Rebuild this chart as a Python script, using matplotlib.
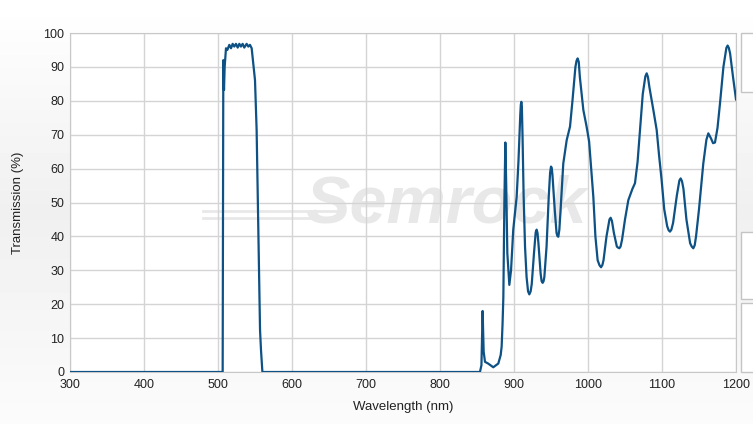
import numpy as np
import matplotlib.pyplot as plt
from matplotlib.patches import Rectangle

plt.rcParams['font.family'] = ['Liberation Sans', 'DejaVu Sans']

# transmission spectrum (wavelength in nm, T in %)
wavelength = [300, 506.3, 507.2, 508.1, 509.0, 510.8, 512.6, 515.3, 517.6, 519.8,
              522.0, 524.3, 526.6, 528.8, 531.0, 533.3, 535.5, 538.7, 541.0, 543.2,
              545.5, 547.7, 550.0, 552.2, 554.5, 556.8, 558.1, 560.0,
              854, 856, 857.6, 859, 860.8, 865, 872, 878.8, 882, 883.3, 884.5,
              885.6, 887, 888.3, 889.5, 891, 893.7, 896, 899, 903.6, 906, 908.5,
              909.2, 909.9, 910.6, 911.5, 913, 914.9, 917, 919, 920.7, 922.5, 924,
              927, 929.3, 930.6, 931.8, 933, 936, 937.3, 938.7, 940, 941, 944, 947,
              948.8, 950, 951, 952, 955, 957.5, 958.7, 959.9, 961.3, 963, 966.6,
              971.2, 975.7, 979, 983, 984.5, 986, 987.5, 989, 993.7, 998, 1001.5,
              1004, 1007.2, 1010, 1013, 1015.5, 1017.6, 1019.5, 1021, 1025, 1029,
              1030.6, 1032.3, 1035, 1039, 1040.6, 1042.3, 1044, 1046, 1050, 1054.5,
              1060, 1063.5, 1067, 1070.3, 1074, 1077.5, 1079.3, 1081, 1083, 1088.3,
              1092.8, 1096, 1099.5, 1103, 1107, 1109, 1110.8, 1112.7, 1115, 1120,
              1123.5, 1125.2, 1127, 1129, 1133, 1138, 1140.2, 1142.3, 1144.2, 1146,
              1150, 1155.8, 1160, 1162.6, 1166, 1169, 1171.6, 1175, 1178.4, 1183,
              1187, 1188.7, 1190.3, 1192, 1196, 1200]
transmission = [0, 0, 92, 83.2, 90, 95.5, 95, 96.5, 95.5, 96.8,
                96, 96.8, 95.7, 96.8, 96, 96.8, 95.7, 96.8, 96, 96.5,
                95.5, 91, 86.1, 71.4, 41.9, 12.4, 6.5, 0,
                0, 2, 18, 6, 3, 2.5, 1.4, 2.5, 5, 7.5, 14,
                22, 50, 67.7, 55, 35, 25.7, 30, 42, 51.7, 62, 76,
                78.8, 79.7, 78.5, 70, 52, 37, 28, 23.8, 22.9, 23.8, 26,
                35, 41.2, 42, 41, 38, 29, 26.8, 26.3, 26.8, 28, 37, 52,
                58.8, 60.6, 60.2, 58, 48, 41, 40.1, 39.9, 42, 48, 61.5,
                68.4, 72.4, 80, 90, 91.8, 92.5, 91.5, 87, 77.3, 72.5, 68,
                61, 51.7, 40, 33, 31.5, 30.9, 31.6, 33, 40, 45,
                45.5, 44.6, 41, 37, 36.7, 36.5, 37, 39, 45, 50.7,
                54, 55.7, 62, 71.4, 82, 87.2, 88.1, 87, 84, 77.3,
                71.4, 64, 56.6, 48, 43, 41.8, 41.4, 42, 44, 52,
                56.5, 57.1, 56.3, 54, 45, 38, 37, 36.5, 37.4, 40,
                48, 61.5, 68.5, 70.4, 69, 67.5, 67.7, 72, 79.3, 90,
                95.6, 96.3, 95.6, 94, 87, 80.4]

x_ticks = [300, 400, 500, 600, 700, 800, 900, 1000, 1100, 1200]
y_ticks = [0, 10, 20, 30, 40, 50, 60, 70, 80, 90, 100]

W, H = 753, 424
fig = plt.figure(figsize=(W / 100, H / 100), dpi=100)

# soft grey page background
bg = fig.add_axes([0, 0, 1, 1], zorder=-10)
grad = np.concatenate([np.linspace(1.0, 0.94, 50), np.linspace(0.94, 0.985, 50)])
bg.imshow(np.tile(grad[:, None], (1, 10)), cmap='gray', vmin=0, vmax=1,
          aspect='auto', extent=[0, 1, 0, 1])
bg.axis('off')

ax = fig.add_axes([70 / W, (H - 372) / H, (736 - 70) / W, (372 - 33) / H])
ax.set_facecolor('white')

# watermark
ax.text(0.565, 0.49, 'Semrock', transform=ax.transAxes, fontsize=48,
        fontweight='bold', fontstyle='italic', color='#e8e8e8',
        ha='center', va='center', zorder=0)
ax.plot([0.2, 0.4], [0.455, 0.455], transform=ax.transAxes, color='#e8e8e8',
        lw=2, zorder=0)
ax.plot([0.2, 0.4], [0.475, 0.475], transform=ax.transAxes, color='#e8e8e8',
        lw=2, zorder=0)

ax.plot(wavelength, transmission, color='#0d5185', lw=1.6, zorder=3)

ax.set_xlim(300, 1200)
ax.set_ylim(0, 100)
ax.set_xticks(x_ticks)
ax.set_yticks(y_ticks)
ax.grid(True, color='#d4d4d4', lw=1)
ax.set_axisbelow(True)
for s in ax.spines.values():
    s.set_color('#c8c8c8')
ax.tick_params(length=0, labelsize=9, labelcolor='#222222', pad=4)
ax.tick_params(axis='x', pad=5)
ax.set_xlabel('Wavelength (nm)', fontsize=9.5, color='#222222', labelpad=7)
ax.set_ylabel('Transmission (%)', fontsize=9.5, color='#222222', labelpad=14)

# side panels on the right edge
for y0, y1 in [(33, 92), (232, 299), (303, 372)]:
    fig.patches.append(Rectangle((741 / W, (H - y1) / H), 20 / W, (y1 - y0) / H,
                                 transform=fig.transFigure, facecolor='white',
                                 edgecolor='#c4c4c4', lw=1))

fig.savefig('out.png', dpi=100)
